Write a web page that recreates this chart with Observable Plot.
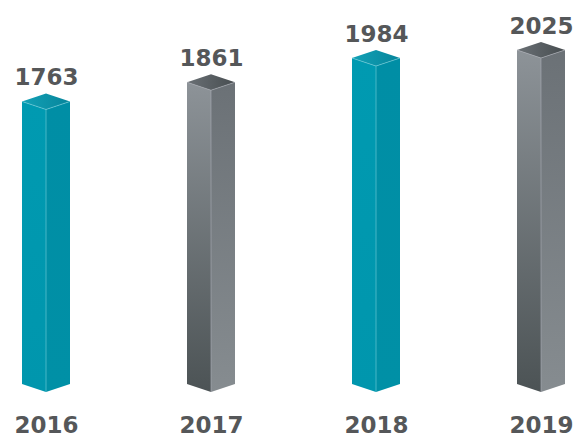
<!DOCTYPE html>
<html>
<head>
<meta charset="utf-8">
<script src="https://cdn.jsdelivr.net/npm/d3@7"></script>
<script src="https://cdn.jsdelivr.net/npm/@observablehq/plot@0.6"></script>
<style>
  html, body { margin: 0; padding: 0; background: #fff; }
</style>
</head>
<body>
<div id="chart"></div>
<script>
const years = ["2016", "2017", "2018", "2019"];
const values = [1763, 1861, 1984, 2025];
const kinds = ["teal", "gray", "teal", "gray"];

const data = years.map((year, i) => ({year, value: values[i], kind: kinds[i]}));

const palette = {
  teal: {
    leftTop: "#009ab1", leftBottom: "#0096ad",
    rightTop: "#008ea5", rightBottom: "#0090a6",
    capLeft: "#12a1b6", capRight: "#07859b",
    edge: "#6fcbd8"
  },
  gray: {
    leftTop: "#8d9398", leftBottom: "#4c5355",
    rightTop: "#6b7176", rightBottom: "#868c90",
    capLeft: "#6a7075", capRight: "#474d50",
    edge: "#a8abb4"
  }
};

function prisms(index, scales) {
  const x = scales.x, y = scales.y;
  const bw = x.bandwidth();
  const depth = 8;
  const yb = y(y.domain()[0]);
  const g = d3.create("svg:g");
  const defs = g.append("defs");
  for (const [k, c] of Object.entries(palette)) {
    const lg = defs.append("linearGradient").attr("id", `pl-${k}`).attr("x1", 0).attr("y1", 0).attr("x2", 0).attr("y2", 1);
    lg.append("stop").attr("offset", "0%").attr("stop-color", c.leftTop);
    lg.append("stop").attr("offset", "100%").attr("stop-color", c.leftBottom);
    const rg = defs.append("linearGradient").attr("id", `pr-${k}`).attr("x1", 0).attr("y1", 0).attr("x2", 0).attr("y2", 1);
    rg.append("stop").attr("offset", "0%").attr("stop-color", c.rightTop);
    rg.append("stop").attr("offset", "100%").attr("stop-color", c.rightBottom);
    const cg = defs.append("linearGradient").attr("id", `pc-${k}`).attr("x1", 0).attr("y1", 0).attr("x2", 1).attr("y2", 0);
    cg.append("stop").attr("offset", "0%").attr("stop-color", c.capLeft);
    cg.append("stop").attr("offset", "100%").attr("stop-color", c.capRight);
  }
  for (const d of data) {
    const c = palette[d.kind];
    const x0 = x(d.year), x1 = x0 + bw, xm = x0 + bw / 2;
    const ys = y(d.value);
    g.append("path")
      .attr("d", `M${x0},${ys}L${xm},${ys + depth}L${xm},${yb + depth}L${x0},${yb}Z`)
      .attr("fill", `url(#pl-${d.kind})`);
    g.append("path")
      .attr("d", `M${xm},${ys + depth}L${x1},${ys}L${x1},${yb}L${xm},${yb + depth}Z`)
      .attr("fill", `url(#pr-${d.kind})`);
    g.append("path")
      .attr("d", `M${x0},${ys}L${xm},${ys - depth}L${x1},${ys}L${xm},${ys + depth}Z`)
      .attr("fill", `url(#pc-${d.kind})`);
    g.append("path")
      .attr("d", `M${x0},${ys}L${xm},${ys + depth}L${x1},${ys}M${xm},${ys + depth}L${xm},${yb + depth}`)
      .attr("fill", "none")
      .attr("stroke", c.edge)
      .attr("stroke-width", 0.8)
      .attr("stroke-opacity", 0.8);
  }
  return g.node();
}

const chart = Plot.plot({
  width: 576,
  height: 439,
  marginLeft: 20,
  marginRight: 10,
  marginTop: 50,
  marginBottom: 55,
  style: {fontFamily: "DejaVu Sans", fontSize: "23px", fontWeight: "bold", color: "#555759", background: "#fff"},
  x: {type: "band", domain: years, paddingInner: 0.71, paddingOuter: 0, axis: null},
  y: {domain: [325, 2025], axis: null},
  marks: [
    prisms,
    Plot.text(data, {x: "year", y: "value", text: d => String(d.value), lineAnchor: "bottom", dy: -17, fill: "#555759", fontSize: 23, fontWeight: "bold"}),
    Plot.text(data, {x: "year", text: "year", frameAnchor: "bottom", lineAnchor: "bottom", dy: 48, fill: "#555759", fontSize: 23, fontWeight: "bold"})
  ]
});
document.getElementById("chart").appendChild(chart);
</script>
</body>
</html>
